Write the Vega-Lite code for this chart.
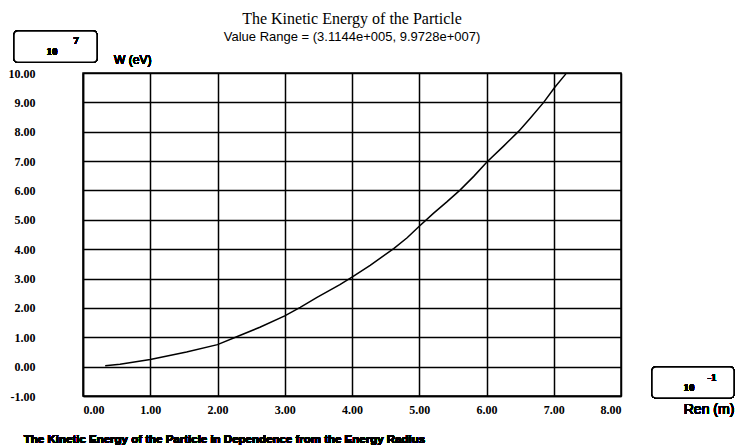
{
  "$schema": "https://vega.github.io/schema/vega-lite/v6.json",
  "width": 538,
  "height": 323,
  "autosize": {"type": "none"},
  "padding": {"left": 83, "top": 73, "right": 115, "bottom": 52},
  "background": "white",
  "title": {
    "text": "The Kinetic Energy of the Particle",
    "subtitle": "Value Range = (3.1144e+005, 9.9728e+007)",
    "font": "Liberation Serif",
    "fontSize": 16,
    "fontWeight": "normal",
    "color": "black",
    "subtitleFont": "Liberation Sans",
    "subtitleFontSize": 13,
    "subtitleColor": "black",
    "subtitlePadding": 4,
    "anchor": "middle",
    "frame": "group",
    "offset": -14
  },
  "config": {
    "view": {"stroke": "black", "strokeWidth": 1.5},
    "axis": {
      "grid": true,
      "gridColor": "black",
      "gridWidth": 1.5,
      "gridOpacity": 1,
      "domainColor": "black",
      "domainWidth": 1.5,
      "ticks": false,
      "labelFont": "Liberation Serif",
      "labelFontWeight": "bold",
      "labelFontSize": 12,
      "labelColor": "black",
      "labelOverlap": false,
      "title": null
    }
  },
  "data": {
    "values": [
      {"ren": 0.33, "w": 0.03},
      {"ren": 0.55, "w": 0.08},
      {"ren": 1.0, "w": 0.24},
      {"ren": 1.54, "w": 0.5},
      {"ren": 2.0, "w": 0.75},
      {"ren": 2.34, "w": 1.07},
      {"ren": 2.63, "w": 1.34},
      {"ren": 3.0, "w": 1.73},
      {"ren": 3.23, "w": 2.02},
      {"ren": 3.48, "w": 2.36},
      {"ren": 3.82, "w": 2.79},
      {"ren": 4.0, "w": 3.05},
      {"ren": 4.27, "w": 3.45},
      {"ren": 4.62, "w": 4.02},
      {"ren": 4.82, "w": 4.39},
      {"ren": 5.0, "w": 4.78},
      {"ren": 5.21, "w": 5.22},
      {"ren": 5.41, "w": 5.61},
      {"ren": 5.61, "w": 6.02},
      {"ren": 5.81, "w": 6.48},
      {"ren": 6.01, "w": 6.98},
      {"ren": 6.25, "w": 7.5},
      {"ren": 6.48, "w": 8.02},
      {"ren": 6.65, "w": 8.46},
      {"ren": 6.85, "w": 9.0},
      {"ren": 7.01, "w": 9.5},
      {"ren": 7.18, "w": 9.97}
    ]
  },
  "layer": [
    {
      "mark": {"type": "line", "color": "black", "strokeWidth": 1.5},
      "encoding": {
        "x": {
          "field": "ren", "type": "quantitative",
          "scale": {"domain": [0, 8], "nice": false, "zero": false},
          "axis": {"tickCount": 8, "labelExpr": "replace(format(datum.value, '.2f'), '\u2212', '-')", "labelPadding": 8, "labelOverlap": false}
        },
        "y": {
          "field": "w", "type": "quantitative",
          "scale": {"domain": [-1, 10], "nice": false, "zero": false},
          "axis": {"tickCount": 11, "labelExpr": "replace(format(datum.value, '.2f'), '\u2212', '-')", "labelPadding": 48, "labelOverlap": false}
        }
      }
    },
    {
      "mark": {"type": "rect", "fill": "white", "stroke": "black", "strokeWidth": 1.5, "cornerRadius": 4, "clip": false},
      "encoding": {
        "x": {"datum": -1.026}, "x2": {"datum": 0.208},
        "y": {"datum": 11.43}, "y2": {"datum": 10.37}
      }
    },
    {
      "mark": {"type": "rect", "fill": "white", "stroke": "black", "strokeWidth": 1.5, "cornerRadius": 4, "clip": false},
      "encoding": {
        "x": {"datum": 8.461}, "x2": {"datum": 9.68},
        "y": {"datum": -0.012}, "y2": {"datum": -1.068}
      }
    },
    {
      "mark": {"type": "text", "text": "10", "font": "Liberation Serif", "fontWeight": "bold", "fontSize": 11, "color": "black", "align": "center", "baseline": "middle"},
      "encoding": {"x": {"datum": -0.46}, "y": {"datum": 10.72}}
    },
    {
      "mark": {"type": "text", "text": "7", "font": "Liberation Serif", "fontWeight": "bold", "fontSize": 11, "color": "black", "align": "center", "baseline": "middle"},
      "encoding": {"x": {"datum": -0.104}, "y": {"datum": 11.09}}
    },
    {
      "mark": {"type": "text", "text": "10", "font": "Liberation Serif", "fontWeight": "bold", "fontSize": 11, "color": "black", "align": "center", "baseline": "middle"},
      "encoding": {"x": {"datum": 9.011}, "y": {"datum": -0.727}}
    },
    {
      "mark": {"type": "text", "text": "-1", "font": "Liberation Serif", "fontWeight": "bold", "fontSize": 11, "color": "black", "align": "center", "baseline": "middle"},
      "encoding": {"x": {"datum": 9.353}, "y": {"datum": -0.387}}
    },
    {
      "mark": {"type": "text", "text": "W (eV)", "font": "Liberation Sans", "fontSize": 12, "color": "black", "align": "center", "baseline": "middle"},
      "encoding": {"x": {"datum": 0.74}, "y": {"datum": 10.44}}
    },
    {
      "mark": {"type": "text", "text": "Ren (m)", "font": "Liberation Sans", "fontSize": 14, "color": "black", "align": "center", "baseline": "middle"},
      "encoding": {"x": {"datum": 9.309}, "y": {"datum": -1.477}}
    },
    {
      "mark": {"type": "text", "text": "The Kinetic Energy of the Particle in Dependence from the Energy Radius", "font": "Liberation Sans", "fontWeight": "bold", "fontSize": 11.5, "color": "black", "align": "left", "baseline": "middle"},
      "encoding": {"x": {"datum": -0.88}, "y": {"datum": -2.49}}
    }
  ]
}
